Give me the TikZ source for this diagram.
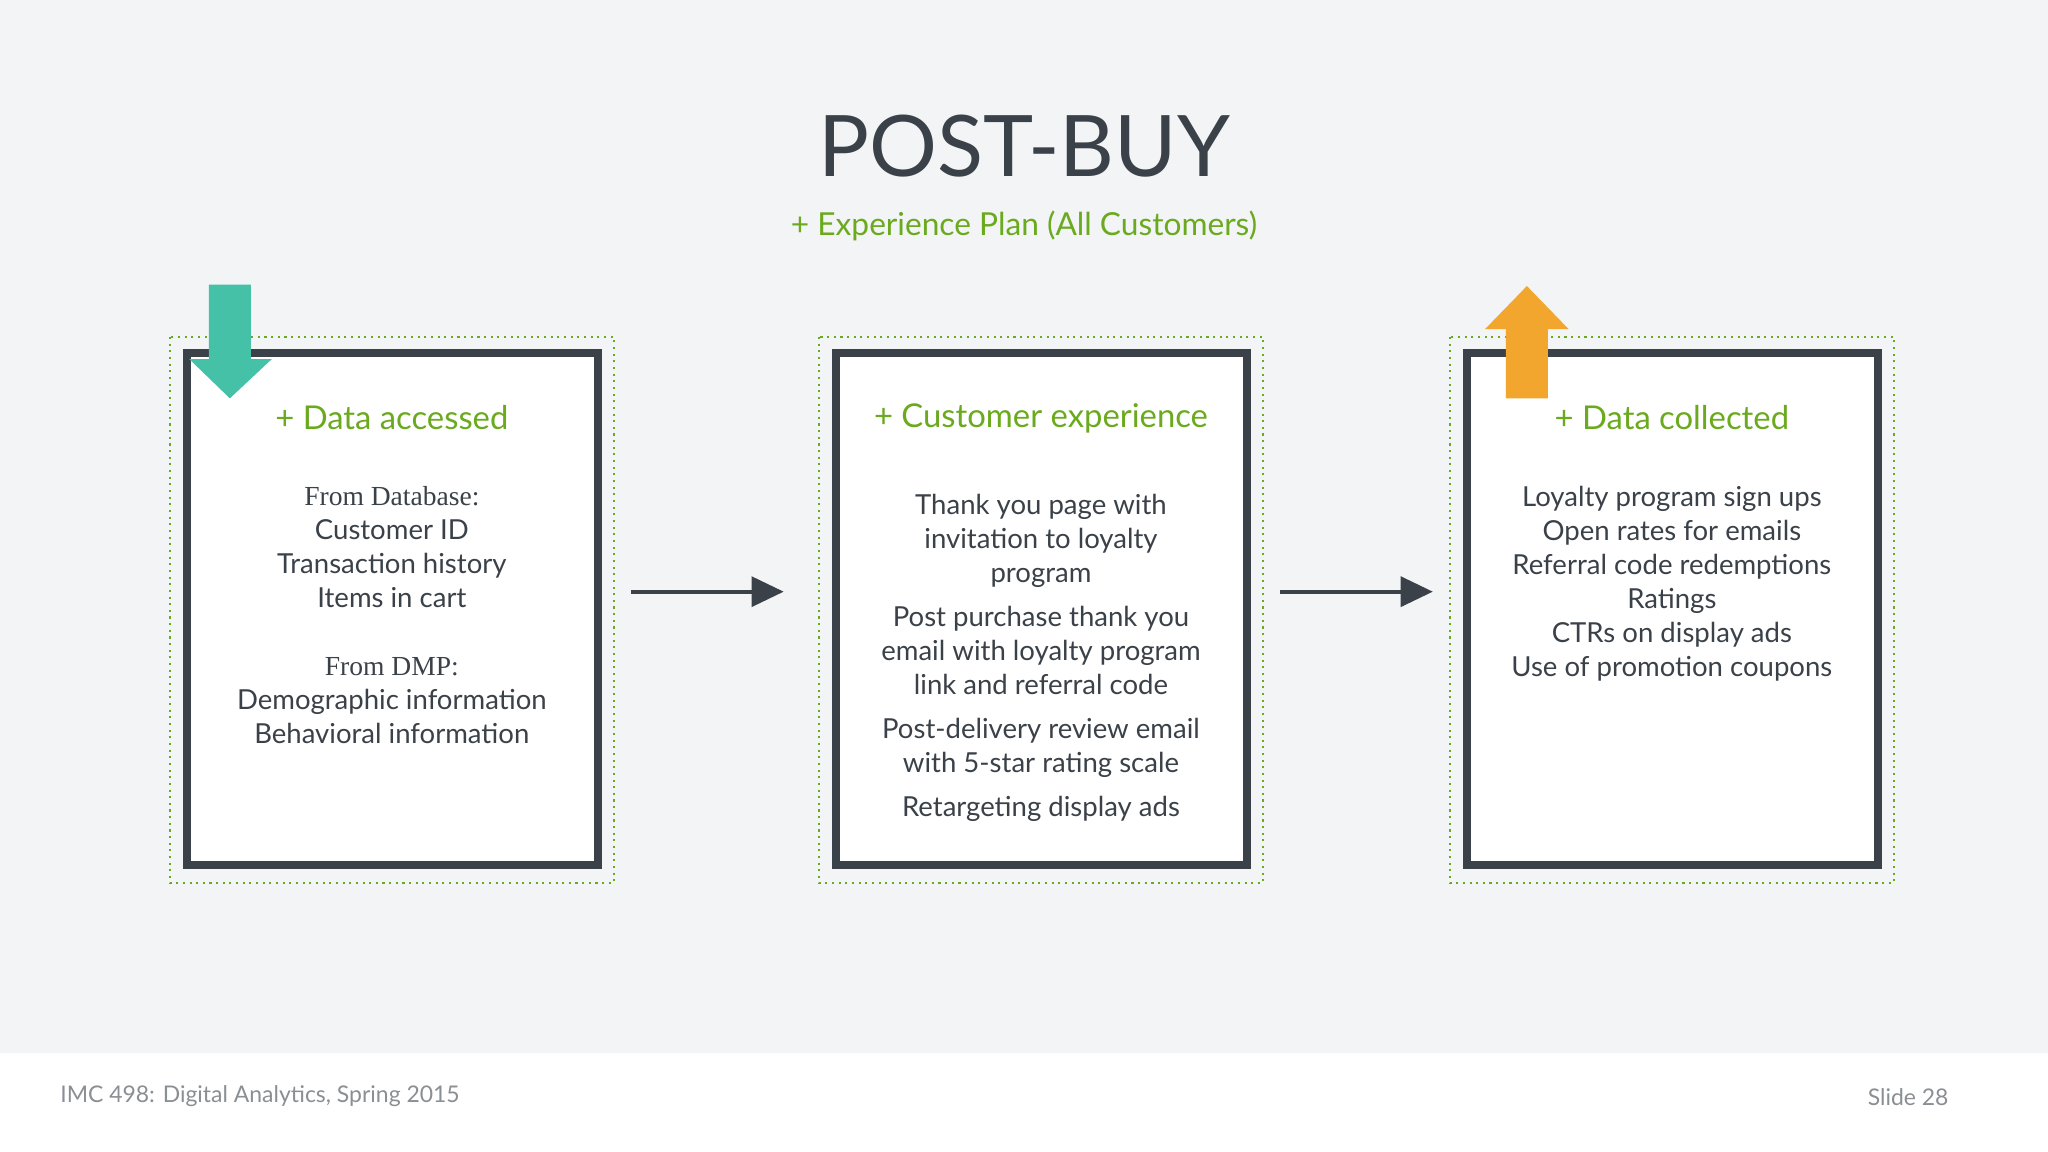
\documentclass[tikz,border=0pt]{standalone}
\usepackage{fontspec}
\setmainfont{Lato}
\newfontfamily\serifx{Liberation Serif}
\usetikzlibrary{arrows.meta}
\definecolor{bg}{HTML}{F2F4F6}
\definecolor{dk}{HTML}{3A4148}
\definecolor{gr}{HTML}{6BAA1E}
\definecolor{teal}{HTML}{45C1A8}
\definecolor{orng}{HTML}{F2A62D}
\definecolor{foot}{HTML}{8A8F94}
\tikzset{
 frame/.style={draw=dk,fill=white,line width=3.4pt},
 dots/.style={draw=gr,dotted,line width=0.9pt},
 head/.style={text=gr,font=\fontsize{14.3}{17}\selectfont},
 body/.style={text=dk,font=\fontsize{12}{14.8}\selectfont,align=center},
 conn/.style={draw=dk,line width=1.7pt,-{Triangle[length=14pt,width=13pt]}}
}
\begin{document}
\begin{tikzpicture}[x=0.02cm,y=-0.02cm]
\useasboundingbox (0,0) rectangle (1568,882);
\fill[white] (0,0) rectangle (1568,882);
\fill[bg] (0,0) rectangle (1568,806);
\node[text=dk,font=\fontsize{37}{42}\selectfont] (title) at (784,112) {POST-BUY};
\node[head,font=\fontsize{13.8}{16}\selectfont] (sub) at (784,173) {+ Experience Plan (All Customers)};
% boxes
\foreach \x/\n in {130/a,627/b,1110/c}{
  \draw[dots] (\x,258) rectangle ++(340,418);
  \draw[frame] (\x+13,270) rectangle ++(315,392);
}
\node[head] (h1) at (300,320) {+ Data accessed};
\node[head] (h2) at (797,320) {+ Customer experience};
\node[head] (h3) at (1280,320) {+ Data collected};
\node[body,anchor=north] (t1) at (300,366) {{\serifx From Database:}\\Customer ID\\Transaction history\\Items in cart\\[15pt]{\serifx From DMP:}\\Demographic information\\Behavioral information};
\node[body,anchor=north] (t2) at (797,372) {Thank you page with\\invitation to loyalty\\program\\[4.5pt]Post purchase thank you\\email with loyalty program\\link and referral code\\[4.5pt]Post-delivery review email\\with 5-star rating scale\\[4.5pt]Retargeting display ads};
\node[body,anchor=north] (t3) at (1280,366) {Loyalty program sign ups\\Open rates for emails\\Referral code redemptions\\Ratings\\CTRs on display ads\\Use of promotion coupons};
% connectors
\coordinate (a1) at (483,453); \coordinate (a2) at (600,453);
\coordinate (b1) at (980,453); \coordinate (b2) at (1097,453);
\draw[conn] (a1) -- (a2);
\draw[conn] (b1) -- (b2);
% big arrows
\fill[teal] (160,218) -- (192,218) -- (192,275) -- (208,275) -- (176,305) -- (145,275) -- (160,275) -- cycle;
\fill[orng] (1153,305) -- (1185,305) -- (1185,252) -- (1201,252) -- (1169,219) -- (1137,252) -- (1153,252) -- cycle;
% footer
\node[text=foot,font=\fontsize{10}{12}\selectfont,anchor=west] (f1) at (40,839) {IMC 498: Digital Analytics, Spring 2015};
\node[text=foot,font=\fontsize{10}{12}\selectfont,anchor=east] (f2) at (1498,840) {Slide 28};
\end{tikzpicture}
\end{document}
